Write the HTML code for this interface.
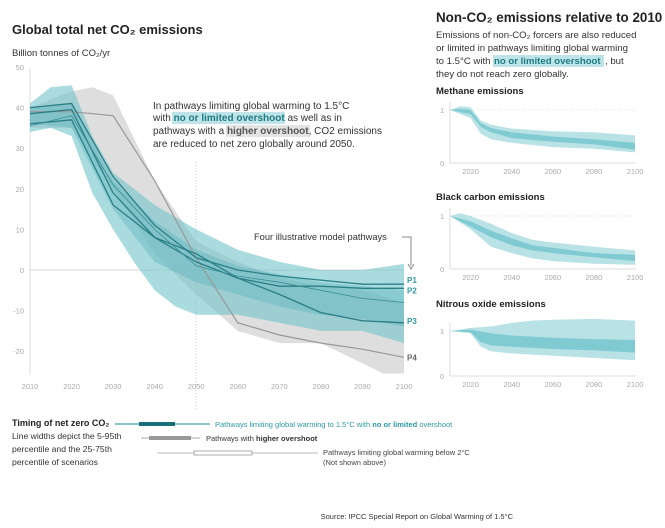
<!DOCTYPE html>
<html><head><meta charset="utf-8"><style>
body{margin:0;background:#fff;width:665px;height:528px;overflow:hidden;font-family:"Liberation Sans",sans-serif;}
svg{position:absolute;left:0;top:0}
text{font-family:"Liberation Sans",sans-serif}
</style></head><body>
<svg id="s" width="665" height="528" xmlns="http://www.w3.org/2000/svg">
<text x="12" y="34" font-size="13" font-weight="bold" fill="#222">Global total net CO₂ emissions</text>
<text x="12" y="56" font-size="9.5" fill="#333">Billion tonnes of CO₂/yr</text>
<text x="436" y="22" font-size="13.4" font-weight="bold" fill="#222">Non-CO₂ emissions relative to 2010</text>
<text font-size="9.6" fill="#333"><tspan x="436" y="38">Emissions of non-CO₂ forcers are also reduced</tspan><tspan x="436" y="51">or limited in pathways limiting global warming</tspan><tspan x="436" y="64">to 1.5°C with </tspan></text>
<rect x="493" y="55" width="111" height="12" fill="#bfe4e7"/>
<text x="494" y="64" font-size="9.6" font-weight="bold" fill="#1d7b83">no or limited overshoot</text>
<text x="605" y="64" font-size="9.6" fill="#333">, but</text>
<text x="436" y="77" font-size="9.6" fill="#333">they do not reach zero globally.</text>
<text x="436" y="94" font-size="9.5" font-weight="bold" fill="#222">Methane emissions</text>
<text x="436" y="200" font-size="9.5" font-weight="bold" fill="#222">Black carbon emissions</text>
<text x="436" y="307" font-size="9.5" font-weight="bold" fill="#222">Nitrous oxide emissions</text>
<g id="g"></g>
<rect x="172" y="112" width="113" height="12" fill="#bfe4e7"/>
<rect x="226" y="125" width="84" height="12" fill="#e4e4e4"/>
<text font-size="10" fill="#333"><tspan x="153" y="109">In pathways limiting global warming to 1.5°C</tspan><tspan x="153" y="121">with <tspan font-weight="bold" fill="#1d7b83">no or limited overshoot</tspan> as well as in</tspan><tspan x="153" y="134">pathways with a <tspan font-weight="bold" fill="#555">higher overshoot</tspan>, CO2 emissions</tspan><tspan x="153" y="147">are reduced to net zero globally around 2050.</tspan></text>
<text x="254" y="240" font-size="9.3" fill="#333">Four illustrative model pathways</text>
<path d="M402 237H411V266" stroke="#888" fill="none"/><path d="M408 264L411 269L414 264" stroke="#888" fill="none"/>
<text x="12" y="426" font-size="9" font-weight="bold" fill="#222">Timing of net zero CO₂</text>
<text font-size="8.6" fill="#333"><tspan x="12" y="439">Line widths depict the 5-95th</tspan><tspan x="12" y="452">percentile and the 25-75th</tspan><tspan x="12" y="465">percentile of scenarios</tspan></text>
<line x1="115" y1="424" x2="210" y2="424" stroke="#5fb3bb" stroke-width="1.5"/>
<rect x="139" y="422" width="36" height="4" fill="#1a6f78"/>
<text x="215" y="427" font-size="7.5" fill="#2d9aa3">Pathways limiting global warming to 1.5°C with <tspan font-weight="bold">no or limited</tspan> overshoot</text>
<line x1="141" y1="438" x2="200" y2="438" stroke="#aaa"/>
<rect x="149" y="436" width="42" height="4" fill="#999"/>
<text x="206" y="441" font-size="7.5" fill="#333">Pathways with <tspan font-weight="bold">higher overshoot</tspan></text>
<line x1="157" y1="453" x2="318" y2="453" stroke="#bbb"/>
<rect x="194" y="451" width="58" height="4" fill="#fff" stroke="#999" stroke-width="0.8"/>
<text font-size="7.5" fill="#444"><tspan x="323" y="455">Pathways limiting global warming below 2°C</tspan><tspan x="323" y="465">(Not shown above)</tspan></text>
<text x="513" y="519" font-size="7.5" fill="#333" text-anchor="end">Source: IPCC Special Report on Global Warming of 1.5°C</text>
</svg>
<script>
var g=document.getElementById('g'),h='';
function X(y){return 30+(y-2010)*4.156}
function Y(v){return 270-v*4.06}
function pts(a,fx,fy){return a.map(p=>fx(p[0]).toFixed(1)+','+fy(p[1]).toFixed(1)).join(' ')}
function band(up,lo,fx,fy,c,o){h+='<polygon points="'+pts(up.concat(lo.slice().reverse()),fx,fy)+'" fill="'+c+'" fill-opacity="'+o+'"/>'}
function line(a,fx,fy,c,w){h+='<polyline points="'+pts(a,fx,fy)+'" fill="none" stroke="'+c+'" stroke-width="'+w+'"/>'}
h+='<line x1="30" y1="68" x2="30" y2="375" stroke="#ddd"/>';
h+='<line x1="30" y1="270" x2="404" y2="270" stroke="#ccc" stroke-width="0.7"/>';
h+='<line x1="196" y1="162" x2="196" y2="410" stroke="#ccc" stroke-dasharray="1,2"/>';
[50,40,30,20,10,0,-10,-20].forEach(v=>{h+='<text x="24" y="'+(Y(v)+3)+'" font-size="7.5" fill="#aaa" text-anchor="end">'+v+'</text>'});
for(var y=2010;y<=2100;y+=10)h+='<text x="'+X(y)+'" y="389" font-size="7.5" fill="#aaa" text-anchor="middle">'+y+'</text>';
var gu=[[2010,40],[2020,44],[2025,45],[2030,43],[2040,22],[2050,7],[2060,2],[2070,-2],[2080,-4],[2090,-5],[2100,-8]];
var gl=[[2010,35],[2020,35],[2030,20],[2040,4],[2050,-6],[2060,-15],[2070,-18],[2080,-18],[2090,-23],[2095,-25.5],[2100,-25.5]];
band(gu,gl,X,Y,'#c8c8c8',0.6);
var tu=[[2010,41],[2015,45],[2020,45.5],[2025,33],[2030,24],[2040,16],[2050,10],[2060,5],[2070,2],[2080,0],[2090,0],[2100,1.5]];
var tl=[[2010,34],[2015,35],[2020,33],[2025,19],[2030,10],[2035,2],[2040,-5],[2045,-9],[2050,-11],[2060,-11],[2070,-13],[2080,-15],[2090,-15],[2100,-18]];
band(tu,tl,X,Y,'#6fc3ca',0.6);
var iu=[[2010,40],[2020,41],[2030,22],[2040,12],[2050,5],[2060,1],[2070,-1],[2080,-3],[2090,-4],[2100,-5]];
var il=[[2010,36],[2020,35],[2030,15],[2040,2],[2050,-3],[2060,-6],[2070,-9],[2080,-11],[2090,-12],[2100,-14]];
band(iu,il,X,Y,'#4fb0b8',0.35);
line([[2010,39],[2020,39],[2030,38],[2040,22],[2050,3],[2060,-13],[2070,-16],[2080,-18],[2090,-19.5],[2100,-21.5]],X,Y,'#999',1.2);
line([[2010,40],[2020,41],[2030,23],[2040,11],[2050,3],[2060,0],[2070,-1.5],[2080,-2.5],[2090,-3.5],[2100,-3.5]],X,Y,'#2b7f86',1.3);
line([[2010,38.5],[2020,39.5],[2030,19],[2040,8],[2050,2],[2060,-2],[2070,-4],[2080,-4],[2090,-4.5],[2100,-4.5]],X,Y,'#2b7f86',1.3);
line([[2010,36],[2020,37],[2030,16],[2040,8],[2050,4],[2060,-2],[2070,-6],[2080,-10.5],[2090,-12.5],[2100,-13]],X,Y,'#2b7f86',1.3);
line([[2010,35.5],[2020,38],[2030,21],[2040,10],[2050,1],[2060,-1.5],[2070,-3],[2080,-5],[2090,-7],[2100,-8]],X,Y,'#3a8f96',0.8);
[['P1',-2.5,'#2d9aa3'],['P2',-5,'#2d9aa3'],['P3',-12.5,'#2d9aa3'],['P4',-21.5,'#666']].forEach(p=>{h+='<text x="407" y="'+(Y(p[1])+3)+'" font-size="8" font-weight="bold" fill="'+p[2]+'">'+p[0]+'</text>'});
function XR(y){return 450+(y-2010)*2.056}
function panel(y1,y0,ou,ol,iu,il){
 var fy=v=>y0-(y0-y1)*v;
 h+='<line x1="450" y1="'+(y1-8)+'" x2="450" y2="'+y0+'" stroke="#ddd"/><line x1="450" y1="'+y0+'" x2="636" y2="'+y0+'" stroke="#ddd"/>';
 h+='<line x1="450" y1="'+y1+'" x2="636" y2="'+y1+'" stroke="#ddd" stroke-dasharray="1,2"/>';
 h+='<text x="440" y="'+(y1+3)+'" font-size="7.5" fill="#aaa">1</text><text x="440" y="'+(y0+3)+'" font-size="7.5" fill="#aaa">0</text>';
 [2020,2040,2060,2080,2100].forEach(y=>{h+='<text x="'+XR(y)+'" y="'+(y0+11)+'" font-size="7.5" fill="#aaa" text-anchor="middle">'+y+'</text>'});
 band(ou,ol,XR,fy,'#b9e2e6',1);band(iu,il,XR,fy,'#7fcbd1',1);
}
panel(110,163,[[2010,1],[2015,1.07],[2020,1.05],[2025,0.8],[2030,0.72],[2040,0.65],[2060,0.6],[2080,0.58],[2100,0.52]],
 [[2010,1],[2020,0.85],[2025,0.55],[2030,0.45],[2040,0.38],[2060,0.3],[2080,0.27],[2100,0.2]],
 [[2010,1],[2015,1.02],[2020,1.0],[2025,0.75],[2030,0.66],[2040,0.58],[2060,0.5],[2080,0.45],[2100,0.38]],
 [[2010,1],[2020,0.92],[2025,0.68],[2030,0.58],[2040,0.47],[2060,0.4],[2080,0.35],[2100,0.25]]);
panel(216,269,[[2010,1],[2015,1.05],[2020,1.0],[2030,0.85],[2040,0.68],[2050,0.55],[2060,0.5],[2080,0.42],[2100,0.35]],
 [[2010,1],[2020,0.75],[2030,0.42],[2040,0.3],[2050,0.2],[2060,0.15],[2080,0.1],[2100,0.08]],
 [[2010,1],[2020,0.9],[2030,0.72],[2040,0.58],[2050,0.45],[2060,0.4],[2080,0.3],[2100,0.27]],
 [[2010,1],[2020,0.8],[2030,0.6],[2040,0.45],[2050,0.35],[2060,0.3],[2080,0.22],[2100,0.15]]);
panel(331,376,[[2010,1],[2020,1.07],[2030,1.1],[2040,1.18],[2050,1.23],[2060,1.25],[2080,1.27],[2100,1.23]],
 [[2010,1],[2020,0.95],[2025,0.65],[2030,0.55],[2040,0.5],[2060,0.45],[2080,0.4],[2100,0.35]],
 [[2010,1],[2020,1.03],[2030,0.95],[2040,0.9],[2060,0.85],[2080,0.82],[2100,0.8]],
 [[2010,1],[2020,0.97],[2025,0.75],[2030,0.68],[2040,0.65],[2060,0.6],[2080,0.57],[2100,0.52]]);
g.innerHTML=h;
</script>
</body></html>
